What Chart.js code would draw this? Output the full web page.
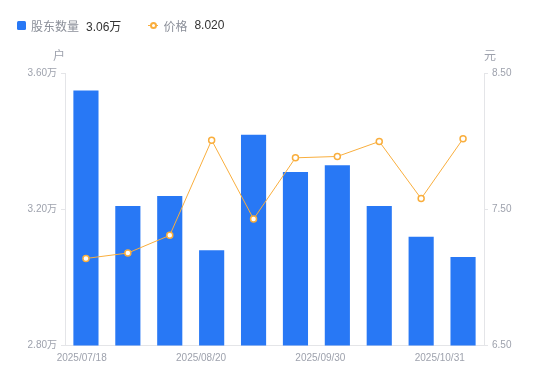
<!DOCTYPE html>
<html>
<head>
<meta charset="utf-8">
<script src="https://cdn.jsdelivr.net/npm/chart.js@4"></script>
<style>
  html, body { margin: 0; padding: 0; background: #fff; }
  #wrap { position: relative; width: 550px; height: 381px; font-family: "Liberation Sans", "Noto Sans CJK SC", sans-serif; }
  #legend { position: absolute; left: 17px; top: 17px; height: 16px; display: flex; align-items: center; font-size: 12px; white-space: nowrap; }
  .item { display: flex; align-items: center; }
  .sq { width: 9px; height: 9px; border-radius: 1.5px; background: #2878F5; margin-right: 5px; }
  .ln { position: relative; width: 10px; height: 10px; margin-right: 5px; }
  .ln:before { content: ""; position: absolute; left: 0; right: 0; top: 4.5px; height: 1px; background: #F9AE3D; }
  .ln:after { content: ""; position: absolute; left: 1.5px; top: 1.5px; width: 3px; height: 3px; border: 2px solid #F9AE3D; border-radius: 50%; background: #fff; }
  .lab { color: #8b8f99; }
  .val { color: #333; margin-left: 7px; }
  canvas { position: absolute; left: 0; top: 0; }
</style>
</head>
<body>
<div id="wrap">
  <canvas id="c" width="550" height="381"></canvas>
  <div id="legend"></div>
</div>
<script>
// ---- data ----
const categories = ['1', '2', '3', '4', '5', '6', '7', '8', '9', '10'];
const holders = [3.55, 3.21, 3.24, 3.08, 3.42, 3.31, 3.33, 3.21, 3.12, 3.06]; // 万户
const prices = [7.14, 7.18, 7.31, 8.01, 7.43, 7.88, 7.89, 8.00, 7.58, 8.02];  // 元
const dateLabels = ['2025/07/18', '2025/08/20', '2025/09/30', '2025/10/31'];
const holderTicks = [2.80, 3.20, 3.60];
const priceTicks = [6.50, 7.50, 8.50];

const seriesNames = ['股东数量', '价格'];
const units = ['户', '元'];

const BLUE = '#2878F5';
const ORANGE = '#F9AE3D';
const TICK = '#9ea2ad';
const AXIS = '#e4e5e8';
const FONT = '"Liberation Sans", "Noto Sans CJK SC", sans-serif';

// legend (HTML, two-tone text)
document.getElementById('legend').innerHTML =
  '<div class="item"><div class="sq"></div><span class="lab">' + seriesNames[0] + '</span><span class="val">' +
  holders[holders.length - 1].toFixed(2) + '万</span></div>' +
  '<div class="item" style="margin-left:27px"><div class="ln"></div><span class="lab">' + seriesNames[1] + '</span><span class="val">' +
  prices[prices.length - 1].toFixed(3) + '</span></div>';

const unitPlugin = {
  id: 'units',
  afterDraw(chart) {
    const ctx = chart.ctx;
    const yl = chart.scales.y, yr = chart.scales.y1;
    ctx.save();
    ctx.font = '12px ' + FONT;
    ctx.fillStyle = TICK;
    ctx.textAlign = 'center';
    ctx.textBaseline = 'middle';
    ctx.fillText(units[0], yl.right - 6, chart.chartArea.top - 17);
    ctx.fillText(units[1], yr.left + 6, chart.chartArea.top - 17);
    ctx.restore();
  }
};

new Chart(document.getElementById('c'), {
  data: {
    labels: categories,
    datasets: [
      {
        type: 'line', label: seriesNames[1], data: prices, yAxisID: 'y1', order: 0,
        borderColor: ORANGE, borderWidth: 1, tension: 0,
        pointRadius: 3, pointBorderWidth: 1.5, pointBackgroundColor: '#fff', pointBorderColor: ORANGE
      },
      {
        type: 'bar', label: seriesNames[0], data: holders, yAxisID: 'y', order: 1,
        backgroundColor: BLUE, categoryPercentage: 1, barPercentage: 0.6
      }
    ]
  },
  options: {
    responsive: false,
    animation: false,
    layout: { padding: { left: 0, right: 0, top: 73.5, bottom: 0 } },
    plugins: { legend: { display: false }, tooltip: { enabled: false } },
    scales: {
      x: { type: 'category', display: false, offset: true },
      xt: {
        type: 'linear', position: 'bottom', min: -0.14, max: 3.371,
        grid: { display: false, drawTicks: false },
        border: { display: true, color: AXIS, width: 1 },
        afterBuildTicks(s) { s.ticks = dateLabels.map((d, i) => ({ value: i })); },
        afterFit(s) { s.height = 35.5; },
        ticks: {
          padding: 7, color: TICK, maxRotation: 0, autoSkip: false,
          font: { family: FONT, size: 10 },
          callback: (v) => dateLabels[v]
        }
      },
      y: {
        position: 'left', min: 2.8, max: 3.6,
        afterBuildTicks(s) { s.ticks = holderTicks.map(v => ({ value: v })); },
        afterFit(s) { s.width = 65; },
        grid: { drawOnChartArea: false, drawTicks: true, tickLength: 4, color: AXIS },
        border: { display: true, color: AXIS },
        ticks: {
          padding: 4, color: TICK, font: { family: FONT, size: 10 },
          callback: (v) => Number(v).toFixed(2) + '万'
        }
      },
      y1: {
        position: 'right', min: 6.5, max: 8.5,
        afterBuildTicks(s) { s.ticks = priceTicks.map(v => ({ value: v })); },
        afterFit(s) { s.width = 66; },
        grid: { drawOnChartArea: false, drawTicks: true, tickLength: 4, color: AXIS },
        border: { display: true, color: AXIS },
        ticks: {
          padding: 4, color: TICK, font: { family: FONT, size: 10 },
          callback: (v) => Number(v).toFixed(2)
        }
      }
    }
  },
  plugins: [unitPlugin]
});
</script>
</body>
</html>
